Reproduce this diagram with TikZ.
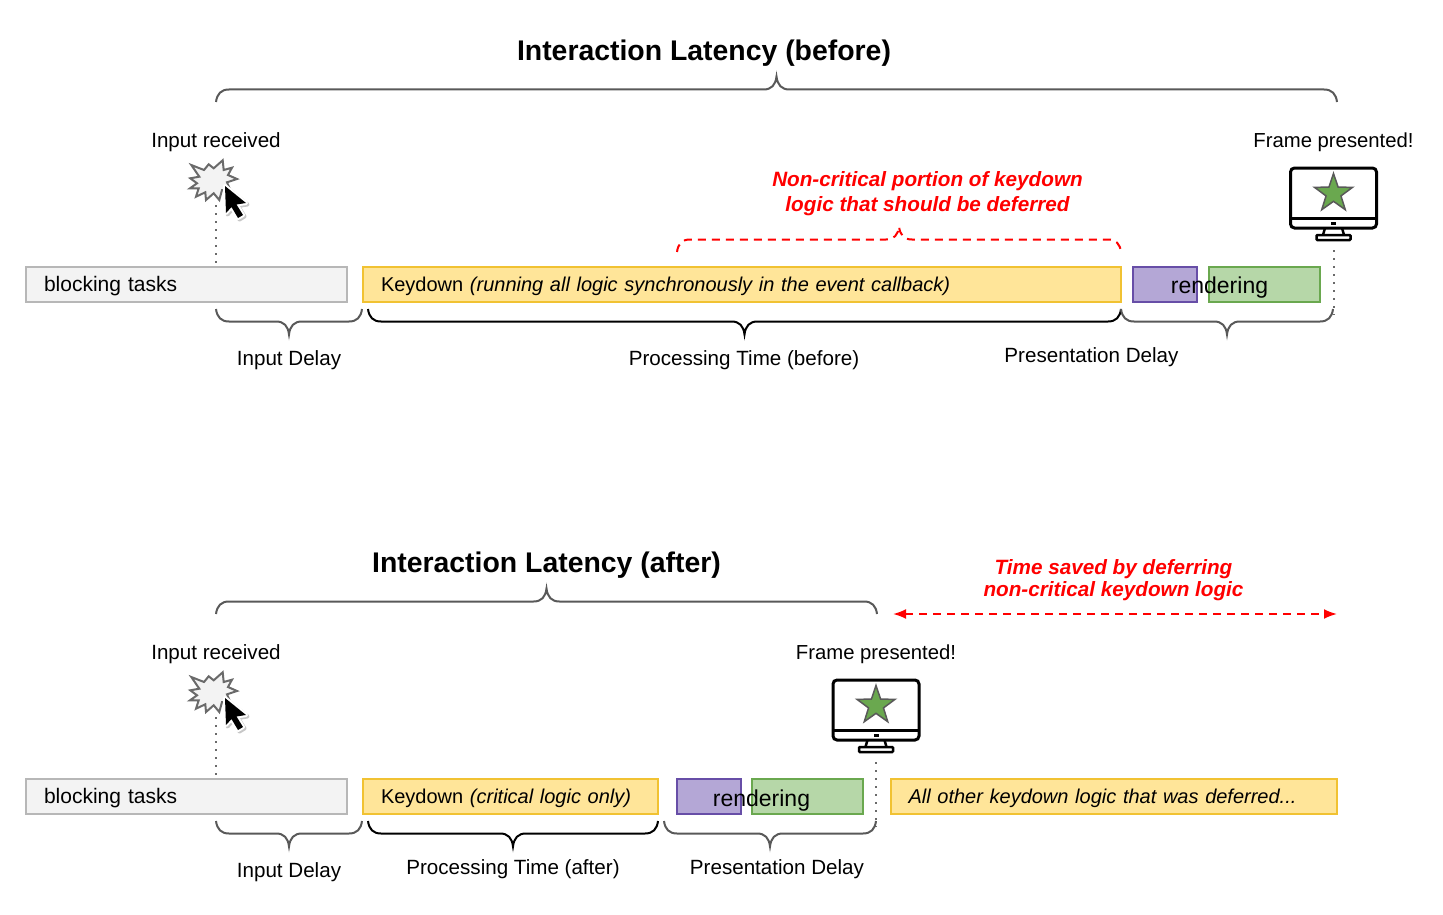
\documentclass[tikz,border=0pt]{standalone}
\usepackage{fontspec}
\setmainfont{Liberation Sans}
\usetikzlibrary{arrows.meta,calc,positioning,shapes.geometric}

\definecolor{slabgrey}{HTML}{F3F3F3}
\definecolor{slabgreyline}{HTML}{B7B7B7}
\definecolor{slabyellow}{HTML}{FFE599}
\definecolor{slabyellowline}{HTML}{F1C232}
\definecolor{slabpurple}{HTML}{B4A7D6}
\definecolor{slabpurpleline}{HTML}{674EA7}
\definecolor{slabgreen}{HTML}{B6D7A8}
\definecolor{slabgreenline}{HTML}{6AA84F}
\definecolor{bracegrey}{HTML}{595959}

\newcommand{\arrowoutline}{(9,2) -- (10,29) -- (15.5,23) -- (22,34) -- (27,31) -- (20.5,20.5) -- (30,19) -- cycle}

\begin{document}
\begin{tikzpicture}[
  x=1pt,y=-1pt,
  >={Latex[length=13pt,width=10pt]},
  slab/.style={draw,line width=2pt,minimum height=35pt,anchor=west,inner xsep=18pt,inner ysep=0pt,
    align=left,text height=17pt,text depth=3pt,font=\fontsize{20}{24}\selectfont},
  blocked/.style={slab,fill=slabgrey,draw=slabgreyline,font=\fontsize{21}{24}\selectfont},
  keydown/.style={slab,fill=slabyellow,draw=slabyellowline},
  script/.style={slab,inner xsep=0pt,fill=slabpurple,draw=slabpurpleline},
  paint/.style={slab,inner xsep=0pt,fill=slabgreen,draw=slabgreenline},
  caption/.style={font=\fontsize{20.6}{24}\selectfont,text height=15pt,text depth=4pt,inner sep=0pt},
  framenote/.style={caption,font=\fontsize{20.3}{24}\selectfont},
  heading/.style={font=\fontsize{28.4}{32}\selectfont\bfseries,text height=20pt,text depth=6pt,inner sep=0pt},
  callout/.style={font=\fontsize{20.7}{25}\selectfont\bfseries\itshape,text=red,align=center,inner sep=0pt},
  overtext/.style={font=\fontsize{23}{26}\selectfont,text height=17pt,text depth=5pt,inner sep=0pt},
  curly/.style={line width=2pt,color=bracegrey,to path={
    (\tikztostart) .. controls ([shift={(1,8*#1)}]\tikztostart) and ([shift={(5,12.5*#1)}]\tikztostart)
      .. ([shift={(13,12.5*#1)}]\tikztostart)
    -- ([shift={(-13,12.5*#1)}]$(\tikztostart)!.5!(\tikztotarget)$)
    .. controls ([shift={(-5,12.5*#1)}]$(\tikztostart)!.5!(\tikztotarget)$) and ([shift={(-1,17*#1)}]$(\tikztostart)!.5!(\tikztotarget)$)
      .. ([shift={(0,25.5*#1)}]$(\tikztostart)!.5!(\tikztotarget)$)
    .. controls ([shift={(1,17*#1)}]$(\tikztostart)!.5!(\tikztotarget)$) and ([shift={(5,12.5*#1)}]$(\tikztostart)!.5!(\tikztotarget)$)
      .. ([shift={(13,12.5*#1)}]$(\tikztostart)!.5!(\tikztotarget)$)
    -- ([shift={(-13,12.5*#1)}]\tikztotarget)
    .. controls ([shift={(-5,12.5*#1)}]\tikztotarget) and ([shift={(-1,8*#1)}]\tikztotarget) .. (\tikztotarget)}},
  curlyblack/.style={curly=#1,color=black},
  curlyred/.style={curly=#1,color=red,dash pattern=on 8pt off 6pt},
  guide/.style={line width=2pt,color=bracegrey!90,dash pattern=on 2pt off 6pt},
  clickmark/.pic={
    \draw[line width=2pt,color=bracegrey!90,fill=slabgrey,line join=miter,xshift=2pt]
      (-26.7,-19) -- (-14,-14) -- (-9.3,-19.7) -- (-4.3,-15.7) -- (4.7,-23.7) -- (5.7,-14)
      -- (14,-16.3) -- (10,-9) -- (19,-5) -- (9,-1.7) -- (12.3,6) -- (4,6) -- (1.3,16)
      -- (-4.3,9.3) -- (-12,16) -- (-12.7,8.3) -- (-22,12.7) -- (-19.3,4.3) -- (-28,4.3)
      -- (-21,-0.7) -- (-27.7,-5.7) -- (-18.7,-7.3) -- cycle;
    \draw[black!22,fill=black!22,line width=4pt,line join=round,shift={(1.5,1.5)}] \arrowoutline;
    \draw[white,fill=white,line width=4pt,line join=round] \arrowoutline;
    \fill[black] \arrowoutline;
    \coordinate (-foot) at (0,21);
  },
  screen/.pic={
    \draw[line width=3pt,rounded corners=4pt] (-43,-24) rectangle (43,36);
    \draw[line width=2.5pt] (-43,26.5) -- (43,26.5);
    \fill (-2.5,30) rectangle (2.5,32.5);
    \draw[line width=2.5pt] (-8.5,36) -- (-10.5,43) (8.5,36) -- (10.5,43);
    \draw[line width=2.5pt,rounded corners=1pt] (-17,43) rectangle (17,48);
    \node[star,star points=5,star point ratio=2.55,draw=bracegrey,line width=1.5pt,fill=slabgreenline,
      minimum size=40pt,inner sep=0pt] (-star) at (0,1.5) {};
    \coordinate (-foot) at (0,58);
  }
]
  \useasboundingbox (0,0) rectangle (1443,915);

  % upper timeline
  \node[heading] (titleBefore) at (704,54) {Interaction Latency (before)};
  \node[caption] (inputBefore) at (216,142) {Input received};
  \node[framenote] (frameBefore) at (1333.5,142) {Frame presented!};
  \pic (clickBefore) at (216,184) {clickmark};
  \pic (screenBefore) at (1333.5,192) {screen};
  \node[callout] (deferBefore) at (927.5,194) {Non-critical portion of keydown\\logic that should be deferred};

  \node[blocked,minimum width=321pt,text width=285pt] (blockBefore) at (25,284) {blocking tasks};
  \node[keydown,minimum width=758pt,text width=722pt] (keyBefore) at (362,284)
    {Keydown \textit{(running all logic synchronously in the event callback)}};
  \node[script,minimum width=64pt] (scriptBefore) at (1132,284) {};
  \node[paint,minimum width=111pt] (paintBefore) at (1207.5,284) {};
  \node[overtext] (renderBefore) at (1219.5,287.5) {rendering};

  \draw[guide] (clickBefore-foot) -- (blockBefore.north -| clickBefore-foot);
  \draw[guide] (screenBefore-foot) -- (1333.5,315);

  \draw[curly=-1] (216,102) to (1337,102);
  \draw[curlyred=-1] (677,252) to (1121,252);
  \draw[curly=1] (216,309) to (362,309);
  \draw[curlyblack=1] (368,309) to (1121,309);
  \draw[curly=1] (1121,309) to (1333,309);

  \node[caption] (delayBefore) at (289,360) {Input Delay};
  \node[caption] (timeBefore) at (744,360) {Processing Time (before)};
  \node[caption] (lagBefore) at (1091.5,357) {Presentation Delay};

  % lower timeline
  \node[heading] (titleAfter) at (546.5,565) {Interaction Latency (after)};
  \node[caption] (inputAfter) at (216,654) {Input received};
  \node[framenote] (frameAfter) at (876,654) {Frame presented!};
  \pic (clickAfter) at (216,696) {clickmark};
  \pic (screenAfter) at (876,704) {screen};
  \node[callout] (deferAfter) at (1113.5,580) {Time saved by deferring\\[-2.5pt]non-critical keydown logic};

  \node[blocked,minimum width=321pt,text width=285pt] (blockAfter) at (25,796.5) {blocking tasks};
  \node[keydown,minimum width=295pt,text width=259pt] (keyAfter) at (362,796.5)
    {Keydown \textit{(critical logic only)}};
  \node[script,minimum width=64pt] (scriptAfter) at (675.5,796.5) {};
  \node[paint,minimum width=111pt] (paintAfter) at (750.5,796.5) {};
  \node[overtext] (renderAfter) at (761.5,800) {rendering};
  \node[keydown,minimum width=446pt,text width=410pt] (restAfter) at (889.5,796.5)
    {\textit{All other keydown logic that was deferred...}};

  \draw[guide] (clickAfter-foot) -- (blockAfter.north -| clickAfter-foot);
  \draw[guide] (screenAfter-foot) -- (876,827);

  \draw[curly=-1] (216,614) to (877,614);
  \draw[curly=1] (216,821) to (362,821);
  \draw[curlyblack=1] (368,821) to (658,821);
  \draw[curly=1] (664,821) to (876,821);

  \coordinate (savedStart) at (893,614);
  \coordinate (savedEnd) at (1337,614);
  \draw[<->,line width=2pt,red,dash pattern=on 8pt off 6pt] (savedStart) -- (savedEnd);

  \node[caption] (delayAfter) at (289,872) {Input Delay};
  \node[caption] (timeAfter) at (513,869) {Processing Time (after)};
  \node[caption] (lagAfter) at (777,869) {Presentation Delay};
\end{tikzpicture}
\end{document}
